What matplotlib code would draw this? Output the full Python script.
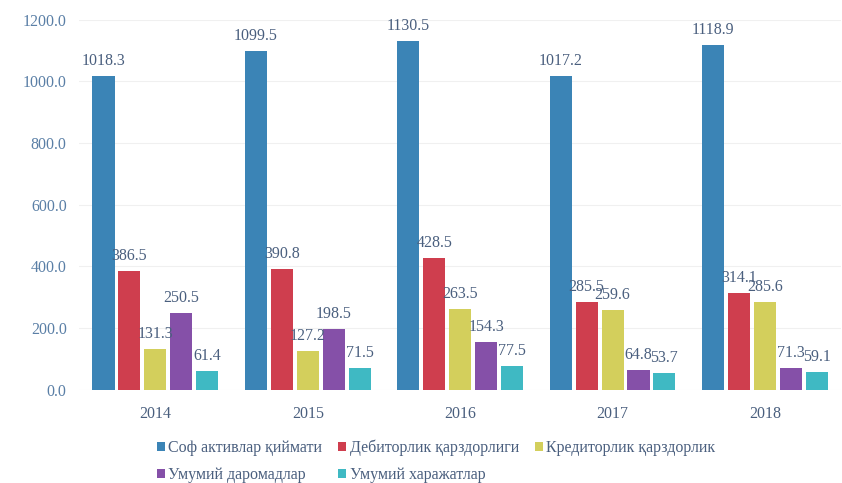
import matplotlib.pyplot as plt
import numpy as np

plt.rcParams['font.family'] = ['Liberation Serif', 'DejaVu Serif']

years = ['2014', '2015', '2016', '2017', '2018']
series_names = ['Соф активлар қиймати', 'Дебиторлик қарздорлиги', 'Кредиторлик қарздорлик',
                'Умумий даромадлар', 'Умумий харажатлар']
net_assets = [1018.3, 1099.5, 1130.5, 1017.2, 1118.9]
receivables = [386.5, 390.8, 428.5, 285.5, 314.1]
payables = [131.3, 127.2, 263.5, 259.6, 285.6]
income = [250.5, 198.5, 154.3, 64.8, 71.3]
expenses = [61.4, 71.5, 77.5, 53.7, 59.1]
series = [net_assets, receivables, payables, income, expenses]
colors = ['#3b84b6', '#cf3e4e', '#d3cf5c', '#8550a8', '#3fb9c3']

fig = plt.figure(figsize=(8.42, 4.83), dpi=100)
ax = fig.add_axes([0.094, 0.193, 0.905, 0.766])

x = np.arange(len(years))
step = 0.17
width = 0.145
text_col = '#4a5f7e'
handles = []
for i, (vals, name, c) in enumerate(zip(series, series_names, colors)):
    pos = x + (i - 2) * step
    bars = ax.bar(pos, vals, width, color=c, label=name, zorder=3)
    handles.append(bars)
    for b, v in zip(bars, vals):
        ax.annotate('%.1f' % v, (b.get_x() + b.get_width() / 2, v), xytext=(0, 5),
                    textcoords='offset points', ha='center', va='bottom',
                    fontsize=11.5, color=text_col, zorder=4)

ax.set_xlim(-0.5, 4.5)
ax.set_ylim(0, 1200)
ax.set_yticks(np.arange(0, 1201, 200))
ax.set_yticklabels(['%.1f' % t for t in np.arange(0, 1201, 200)])
ax.set_xticks(x)
ax.set_xticklabels(years)
ax.tick_params(length=0, labelsize=11.5, colors=text_col)
ax.tick_params(axis='y', colors='#5a7fa6', pad=9)
ax.tick_params(axis='x', pad=12)
ax.grid(axis='y', color='#f0f0f0', linewidth=0.8, zorder=0)
for s in ax.spines.values():
    s.set_visible(False)

# row-wise order for a 3-column legend
order = [0, 3, 1, 4, 2]
fig.legend([handles[k] for k in order], [series_names[k] for k in order],
           loc='center', bbox_to_anchor=(0.518, 0.045), ncol=3, frameon=False,
           fontsize=11.5, handlelength=0.5, handleheight=0.5, handletextpad=0.2,
           columnspacing=1.0, labelspacing=0.7, labelcolor=text_col)

fig.savefig('out.png', dpi=100)
